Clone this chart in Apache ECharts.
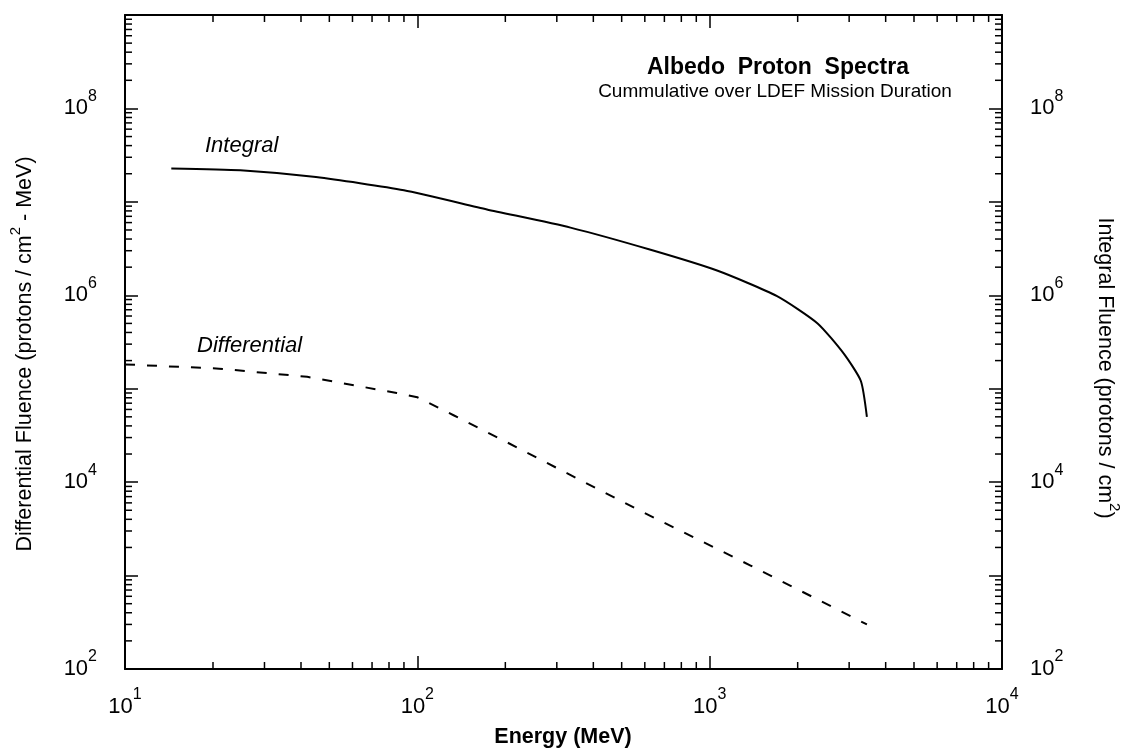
<!DOCTYPE html>
<html>
<head>
<meta charset="utf-8">
<script src="https://cdn.jsdelivr.net/npm/echarts@6/dist/echarts.min.js"></script>
<style>
  html, body { margin: 0; padding: 0; background: #fff; }
  #chart { width: 1128px; height: 750px; }
</style>
</head>
<body>
<div id="chart"></div>
<script>
// Albedo proton spectra, cumulative over the LDEF mission
const energyIntegral = [14.4, 24.8, 45, 90, 173, 334, 628, 1060, 1700, 2340, 2880, 3290, 3450];
const integralFluence = [2.28e7, 2.18e7, 1.84e7, 1.33e7, 8.3e6, 5.3e6, 3.07e6, 1.84e6, 9.8e5, 5.0e5, 2.36e5, 1.21e5, 5.0e4];

const energyDifferential = [10, 21, 42, 85, 100, 133, 198, 326, 581, 1380, 3450];
const differentialFluence = [1.82e5, 1.64e5, 1.34e5, 9.0e4, 8.1e4, 5.2e4, 2.77e4, 1.24e4, 4.9e3, 1.28e3, 3.0e2];

// axis ranges and tick layout (logarithmic decades)
const X_MIN = 10, X_MAX = 1e4;
const Y_MIN = 1e2, Y_MAX = 1e9;
const minorMantissas = [2, 3, 4, 5, 6, 7, 8, 9];
const xDecades = [10, 100, 1000];
const yDecades = [1e2, 1e3, 1e4, 1e5, 1e6, 1e7, 1e8];

const xMinorTicks = [];
xDecades.forEach(d => minorMantissas.forEach(m => xMinorTicks.push(m * d)));
const yMinorTicks = [];
yDecades.forEach(d => minorMantissas.forEach(m => yMinorTicks.push(m * d)));

const FONT = "'Liberation Sans', Arial, Helvetica, sans-serif";

// "10" with a raised exponent
const powRich = {
  b: { fontFamily: FONT, fontSize: 22, color: '#000', lineHeight: 30, verticalAlign: 'middle' },
  s: { fontFamily: FONT, fontSize: 16, color: '#000', lineHeight: 16, verticalAlign: 'middle', padding: [0, 0, 24, 0] }
};
function powLabel(v, evenOnly) {
  const e = Math.round(Math.log10(v));
  if (evenOnly && e % 2 !== 0) return '';
  return '{b|10}{s|' + e + '}';
}

const titleRich = {
  t: { fontFamily: FONT, fontSize: 21.5, color: '#000', lineHeight: 28, verticalAlign: 'middle' },
  s: { fontFamily: FONT, fontSize: 15, color: '#000', lineHeight: 15, verticalAlign: 'middle', padding: [0, 0, 18, 0] }
};

const axisLineStyle = { color: '#000', width: 2 };
const majorTick = { show: true, inside: true, length: 13, lineStyle: { color: '#000', width: 1.5 } };

function xAxisDef(position, showLabels) {
  return {
    type: 'log', logBase: 10, min: X_MIN, max: X_MAX, position: position,
    axisLine: { show: true, onZero: false, lineStyle: axisLineStyle },
    axisTick: majorTick,
    splitLine: { show: false },
    axisLabel: { show: showLabels, margin: 23, formatter: v => powLabel(v, false), rich: powRich }
  };
}
function yAxisDef(position) {
  return {
    type: 'log', logBase: 10, min: Y_MIN, max: Y_MAX, position: position,
    axisLine: { show: true, onZero: false, lineStyle: axisLineStyle },
    axisTick: majorTick,
    splitLine: { show: false },
    axisLabel: { show: true, margin: 28, formatter: v => powLabel(v, true), rich: powRich }
  };
}

const MINOR_LEN = 7;
const minorStyle = { stroke: '#000', lineWidth: 1.5 };

const chart = echarts.init(document.getElementById('chart'), null, { renderer: 'canvas' });
chart.setOption({
  animation: false,
  backgroundColor: '#fff',
  grid: { left: 125, right: 126, top: 15, bottom: 81 },
  xAxis: [xAxisDef('bottom', true), xAxisDef('top', false)],
  yAxis: [yAxisDef('left'), yAxisDef('right')],
  series: [
    {
      name: 'Integral', type: 'line', xAxisIndex: 0, yAxisIndex: 1,
      showSymbol: false, smooth: 0.2,
      lineStyle: { color: '#000', width: 2 },
      data: energyIntegral.map((e, i) => [e, integralFluence[i]])
    },
    {
      name: 'Differential', type: 'line', xAxisIndex: 0, yAxisIndex: 0,
      showSymbol: false, smooth: false,
      lineStyle: { color: '#000', width: 2, type: [10, 12] },
      data: energyDifferential.map((e, i) => [e, differentialFluence[i]])
    },
    {
      // minor ticks on the bottom and top energy axes
      type: 'custom', xAxisIndex: 0, yAxisIndex: 0, silent: true, clip: false, z: 5,
      data: xMinorTicks.map(v => [v, Y_MIN]),
      renderItem: function (params, api) {
        const v = api.value(0);
        const b = api.coord([v, Y_MIN]);
        const t = api.coord([v, Y_MAX]);
        return {
          type: 'group', children: [
            { type: 'line', shape: { x1: b[0], y1: b[1], x2: b[0], y2: b[1] - MINOR_LEN }, style: minorStyle },
            { type: 'line', shape: { x1: t[0], y1: t[1], x2: t[0], y2: t[1] + MINOR_LEN }, style: minorStyle }
          ]
        };
      }
    },
    {
      // minor ticks on the left and right fluence axes
      type: 'custom', xAxisIndex: 0, yAxisIndex: 0, silent: true, clip: false, z: 5,
      data: yMinorTicks.map(v => [X_MIN, v]),
      renderItem: function (params, api) {
        const v = api.value(1);
        const l = api.coord([X_MIN, v]);
        const r = api.coord([X_MAX, v]);
        return {
          type: 'group', children: [
            { type: 'line', shape: { x1: l[0], y1: l[1], x2: l[0] + MINOR_LEN, y2: l[1] }, style: minorStyle },
            { type: 'line', shape: { x1: r[0], y1: r[1], x2: r[0] - MINOR_LEN, y2: r[1] }, style: minorStyle }
          ]
        };
      }
    }
  ],
  graphic: [
    {
      type: 'text', x: 778, y: 68,
      style: { text: 'Albedo  Proton  Spectra', font: "bold 23px " + FONT, fill: '#000', textAlign: 'center', textVerticalAlign: 'middle' }
    },
    {
      type: 'text', x: 775, y: 92,
      style: { text: 'Cummulative over LDEF Mission Duration', font: "19px " + FONT, fill: '#000', textAlign: 'center', textVerticalAlign: 'middle' }
    },
    {
      type: 'text', x: 205, y: 146,
      style: { text: 'Integral', font: "italic 22px " + FONT, fill: '#000', textAlign: 'left', textVerticalAlign: 'middle' }
    },
    {
      type: 'text', x: 197, y: 346,
      style: { text: 'Differential', font: "italic 22px " + FONT, fill: '#000', textAlign: 'left', textVerticalAlign: 'middle' }
    },
    {
      type: 'text', x: 563, y: 737,
      style: { text: 'Energy (MeV)', font: "bold 21.5px " + FONT, fill: '#000', textAlign: 'center', textVerticalAlign: 'middle' }
    },
    {
      type: 'text', x: 25, y: 354, rotation: Math.PI / 2,
      style: {
        text: '{t|Differential Fluence (protons / cm}{s|2}{t| - MeV)}',
        textAlign: 'center', textVerticalAlign: 'middle', rich: titleRich
      }
    },
    {
      type: 'text', x: 1105, y: 368, rotation: -Math.PI / 2,
      style: {
        text: '{t|Integral Fluence (protons / cm}{s|2}{t|)}',
        textAlign: 'center', textVerticalAlign: 'middle', rich: titleRich
      }
    }
  ]
});
</script>
</body>
</html>
